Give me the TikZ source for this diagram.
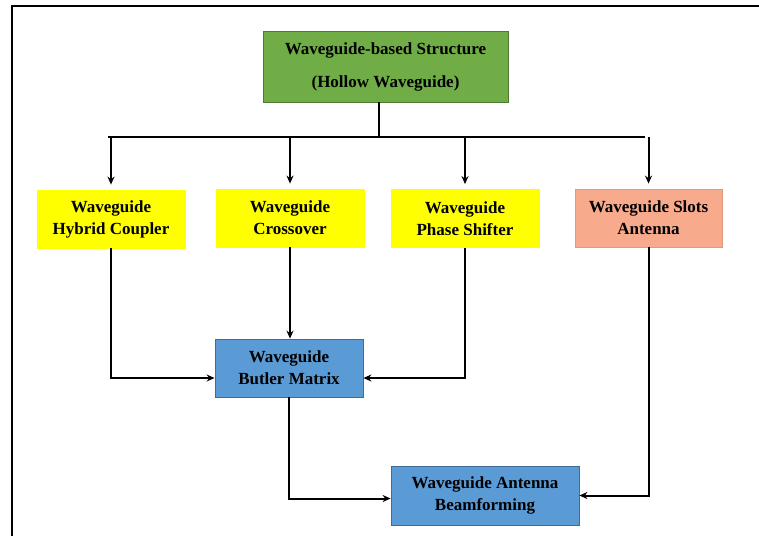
\documentclass[tikz,border=0pt]{standalone}
\usepackage{fontspec}
\setmainfont{Liberation Serif}
\usetikzlibrary{arrows.meta}
\definecolor{topgreen}{RGB}{112,173,71}
\definecolor{partyellow}{RGB}{255,255,0}
\definecolor{slotsalmon}{RGB}{247,170,140}
\definecolor{butlerblue}{RGB}{91,155,213}
\tikzset{
  block/.style={draw=#1!70!black, fill=#1, line width=0.8pt, align=center,
    font=\fontsize{17}{22}\selectfont\bfseries, inner sep=2pt},
  link/.style={line width=2pt},
  arr/.style={link, -{Stealth[length=8pt,width=7pt]}}
}
\begin{document}
\begin{tikzpicture}[x=1pt,y=-1pt]
\useasboundingbox (0,0) rectangle (759,536);
% frame
\draw[line width=1.8pt] (12,536) -- (12,6) -- (759,6);
% top structure
\node[block=topgreen, minimum width=245pt, minimum height=71pt,
  font=\fontsize{17}{33}\selectfont\bfseries] (top) at (385.5,66.5)
  {Waveguide-based Structure\\(Hollow Waveguide)};
% components
\node[block=partyellow, draw=partyellow, minimum width=148pt, minimum height=58pt] (hyb) at (111,219) {Waveguide\\Hybrid Coupler};
\node[block=partyellow, draw=partyellow, minimum width=148pt, minimum height=58pt] (cross) at (290,218) {Waveguide\\Crossover};
\node[block=partyellow, draw=partyellow, minimum width=148pt, minimum height=58pt] (phase) at (465,218.5) {Waveguide\\Phase Shifter};
\node[block=slotsalmon, draw=slotsalmon!90!black, minimum width=147pt, minimum height=58pt] (slots) at (648.5,218) {Waveguide Slots\\Antenna};
% systems
\node[block=butlerblue, minimum width=148pt, minimum height=58pt] (butler) at (289,368) {Waveguide\\Butler Matrix};
\node[block=butlerblue, minimum width=188pt, minimum height=59pt] (beam) at (485,495.5) {Waveguide Antenna\\Beamforming};
% bus
\coordinate (busL) at (108,137);
\coordinate (busR) at (645,137);
\draw[link] ([xshift=-7pt]top.south) -- ([xshift=-7pt]top.south |- busL);
\draw[link] (busL) -- (busR);
\foreach \n in {hyb,cross,phase,slots}
  \draw[arr, shorten >=5pt] (\n.north |- busL) -- (\n.north);
% to Butler matrix
\draw[arr] (hyb.south) |- ([yshift=-10pt]butler.west);
\draw[arr] (cross.south) -- (cross.south |- butler.north);
\draw[arr] (phase.south) |- ([yshift=-10pt]butler.east);
% to beamforming
\draw[arr] (butler.south) |- ([yshift=-3pt]beam.west);
\draw[arr] (slots.south) |- (beam.east);
\end{tikzpicture}
\end{document}
